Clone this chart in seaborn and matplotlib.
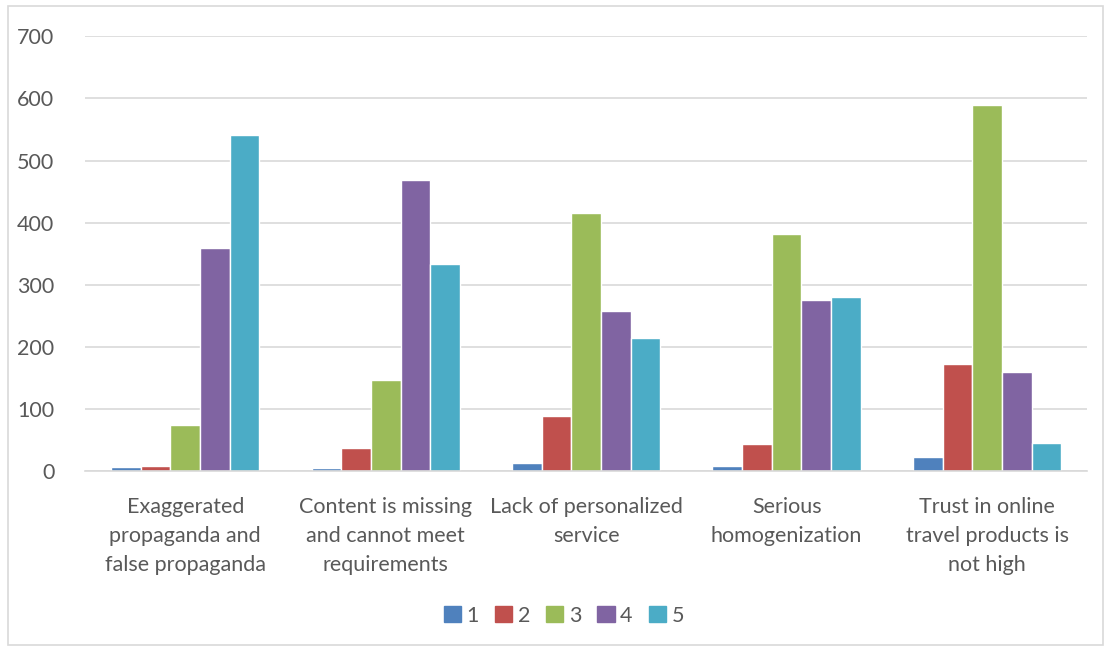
import matplotlib.pyplot as plt
import matplotlib.patches as mpatches
import pandas as pd
import seaborn as sns

# data
categories = ["Exaggerated\npropaganda and\nfalse propaganda",
              "Content is missing\nand cannot meet\nrequirements",
              "Lack of personalized\nservice",
              "Serious\nhomogenization",
              "Trust in online\ntravel products is\nnot high"]
series = ["1", "2", "3", "4", "5"]
s1 = [6, 5, 13, 9, 22]
s2 = [9, 37, 89, 43, 173]
s3 = [74, 146, 415, 381, 590]
s4 = [359, 468, 258, 276, 159]
s5 = [541, 334, 215, 280, 46]
colors = ["#4F81BD", "#C0504D", "#9BBB59", "#8064A2", "#4BACC6"]

rows = []
for name, vals in zip(series, [s1, s2, s3, s4, s5]):
    for cat, v in zip(categories, vals):
        rows.append({"cat": cat, "series": name, "value": v})
df = pd.DataFrame(rows)

sns.set_style("white")
plt.rcParams['font.family'] = ['Lato', 'DejaVu Sans']

fig = plt.figure(figsize=(11.1, 6.48), dpi=100)
ax = fig.add_axes([0.0766, 0.273, 0.903, 0.671])

sns.barplot(data=df, x="cat", y="value", hue="series", palette=colors, saturation=1,
            width=0.74, edgecolor="white", linewidth=1, ax=ax, legend=False)

ax.set_ylim(0, 700)
ax.set_yticks(range(0, 701, 100))
ax.set_xlim(-0.5, 4.5)
ax.yaxis.grid(True, color="#D9D9D9", linewidth=1.2)
ax.set_axisbelow(True)
for s in ["top", "right", "left"]:
    ax.spines[s].set_visible(False)
ax.spines["bottom"].set_color("#D9D9D9")
ax.spines["bottom"].set_linewidth(1.2)
ax.set_xlabel("")
ax.set_ylabel("")
ax.tick_params(axis="both", length=0, labelsize=15.5, labelcolor="#595959")
ax.tick_params(axis="y", pad=22)
ax.tick_params(axis="x", pad=19)
for lbl in ax.get_xticklabels():
    lbl.set_linespacing(1.55)

handles = [mpatches.Patch(color=c, label=n) for c, n in zip(colors, series)]
fig.legend(handles=handles, loc="center", bbox_to_anchor=(0.508, 0.05), ncol=5,
           frameon=False, fontsize=15.5, handlelength=0.8, handleheight=0.8,
           handletextpad=0.25, columnspacing=0.75, labelcolor="#595959")

# outer chart border
fig.patches.append(mpatches.Rectangle((0.007, 0.005), 0.987, 0.985, transform=fig.transFigure,
                                      fill=False, edgecolor="#D9D9D9", linewidth=1.2))

fig.savefig("out.png", dpi=100)
